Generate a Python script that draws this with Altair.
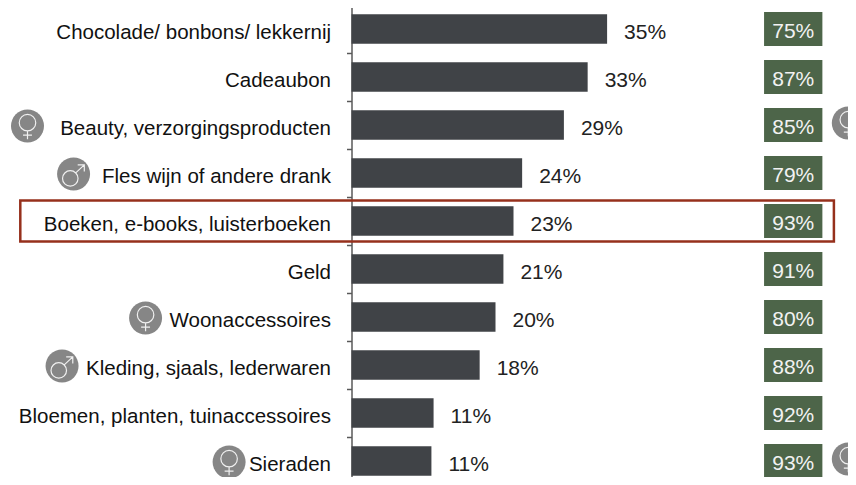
import altair as alt
import pandas as pd

categories = ["Chocolade/ bonbons/ lekkernij", "Cadeaubon", "Beauty, verzorgingsproducten",
              "Fles wijn of andere drank", "Boeken, e-books, luisterboeken", "Geld",
              "Woonaccessoires", "Kleding, sjaals, lederwaren",
              "Bloemen, planten, tuinaccessoires", "Sieraden"]
bar_values = [35.5, 32.8, 29.5, 23.7, 22.5, 21.1, 20.0, 17.8, 11.4, 11.1]
bar_labels = ["35%", "33%", "29%", "24%", "23%", "21%", "20%", "18%", "11%", "11%"]
green_labels = ["75%", "87%", "85%", "79%", "93%", "91%", "80%", "88%", "92%", "93%"]

# icons, positioned on the percentage scale of the bars
left_icon_rows = ["Beauty, verzorgingsproducten", "Fles wijn of andere drank", "Woonaccessoires",
                  "Kleding, sjaals, lederwaren", "Bloemen, planten, tuinaccessoires", "Sieraden"]
left_icon_x = [-45.0, -38.6, -28.6, -40.2, -50.0, -17.0]
left_icon_kind = ["f", "m", "f", "m", "f", "f"]
right_icon_rows = ["Beauty, verzorgingsproducten", "Sieraden"]
right_icon_x = [69.0, 69.0]

green_x0, green_x1 = 57.3, 65.4
value_col = 61.35
box_x0, box_x1 = -46.0, 67.0

PX = 7.2
FONT = "Liberation Sans"
VENUS = ("M-0.5,-0.2 A0.5,0.5 0 1,1 0.5,-0.2 A0.5,0.5 0 1,1 -0.5,-0.2 Z "
         "M0,0.3 L0,0.8 M-0.27,0.55 L0.27,0.55")
MARS = ("M-0.67,0.27 A0.47,0.47 0 1,1 0.27,0.27 A0.47,0.47 0 1,1 -0.67,0.27 Z "
        "M0.13,-0.07 L0.65,-0.55 M0.25,-0.55 L0.65,-0.55 L0.65,-0.15")

bars = pd.DataFrame({"cat": categories, "v": bar_values, "lab": bar_labels, "g": green_labels,
                     "x0": green_x0, "x1": green_x1, "xm": value_col})
icons_l = pd.DataFrame({"cat": left_icon_rows, "x": left_icon_x, "k": left_icon_kind})
icons_r = pd.DataFrame({"cat": right_icon_rows, "x": right_icon_x, "k": ["f", "f"]})
box = pd.DataFrame({"cat": [categories[4]], "x0": [box_x0], "x1": [box_x1]})

xs = alt.Scale(domain=[0, 496.5 / PX])
ys = alt.Scale(domain=categories, range=[-3, 477], paddingInner=0, paddingOuter=0)
X = lambda f: alt.X(f, type="quantitative", scale=xs, axis=None)
Y = alt.Y("cat:N", scale=ys, sort=categories, title=None,
          axis=alt.Axis(domainColor="#595959", domainWidth=1.5, tickColor="#595959", tickWidth=1.5,
                        tickSize=5, tickBand="extent", labelPadding=16, labelFont=FONT,
                        labelFontSize=20.5, labelColor="#111111", labelLimit=400, grid=False,
                        labelOffset=3, labelAlign="right"))

bar = alt.Chart(bars).mark_bar(size=29.5, color="#404347").encode(x=X("v"), y=Y)
vals = alt.Chart(bars).mark_text(align="left", dx=17, dy=4, font=FONT, fontSize=21, color="#222222").encode(
    x=X("v"), y=Y, text="lab:N")
green = alt.Chart(bars).mark_bar(size=34, color="#4d6549").encode(x=X("x0"), x2="x1:Q", y=Y)
gtext = alt.Chart(bars).mark_text(align="center", dy=3, font=FONT, fontSize=21, color="#f2f2f2").encode(
    x=X("xm"), y=Y, text="g:N")

def icon_layers(df, off):
    disc = alt.Chart(df).mark_circle(size=1089, color="#868686", opacity=1, yOffset=off).encode(x=X("x"), y=Y)
    out = [disc]
    for kind, path in (("f", VENUS), ("m", MARS)):
        sub = df[df.k == kind]
        if len(sub):
            out.append(alt.Chart(sub).mark_point(shape=path, size=1089, filled=False, color="#f0f0f0",
                                                 strokeWidth=1.2, opacity=1, yOffset=off).encode(x=X("x"), y=Y))
    return out

frame = alt.Chart(box).mark_bar(size=41, fill=None, stroke="#96301c", strokeWidth=2.5).encode(
    x=X("x0"), x2="x1:Q", y=Y)

chart = alt.layer(bar, vals, green, gtext, *icon_layers(icons_l, 1), *icon_layers(icons_r, -2), frame).properties(
    width=496.5, height=469,
    padding={"left": 343.5, "top": 0, "right": 0, "bottom": 0},
    autosize=alt.AutoSizeParams(type="none"),
    background="white",
).configure_view(stroke=None)

chart.save("out.html", embed_options={"renderer": "svg", "actions": False})
